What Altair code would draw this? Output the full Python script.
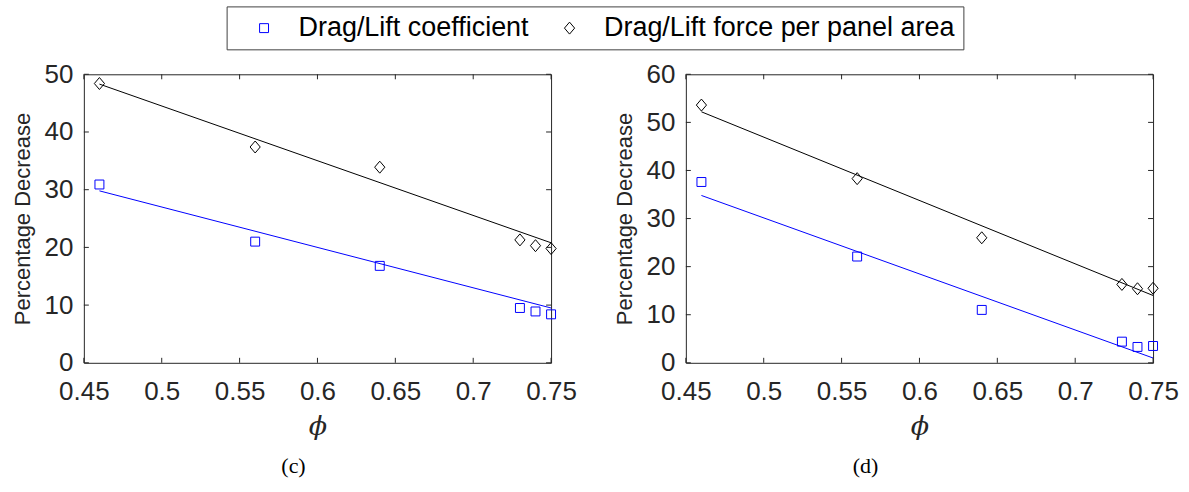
import altair as alt
import pandas as pd

# ---- data ----
phi = [0.46, 0.56, 0.64, 0.73, 0.74, 0.75]
series = ["Drag/Lift coefficient", "Drag/Lift force per panel area"]

# panel (c)
coef_c = [30.9, 21.0, 16.8, 9.5, 8.9, 8.4]
force_c = [48.4, 37.4, 33.9, 21.3, 20.3, 19.8]
# panel (d)
coef_d = [37.6, 22.1, 11.0, 4.4, 3.3, 3.5]
force_d = [53.6, 38.3, 26.0, 16.3, 15.4, 15.5]

# fitted trend lines (end points)
fit_phi = [0.46, 0.75]
fit_coef_c = [29.8, 9.5]
fit_force_c = [48.3, 20.8]
fit_coef_d = [34.8, 1.0]
fit_force_d = [52.2, 14.0]

x_ticks = [0.45, 0.5, 0.55, 0.6, 0.65, 0.7, 0.75]
y_ticks_c = [0, 10, 20, 30, 40, 50]
y_ticks_d = [0, 10, 20, 30, 40, 50, 60]
captions = ["(c)", "(d)"]

# ---- styling ----
W, H = 468, 289
TICK = 5
AX = "#262626"
SANS = "Liberation Sans"
SERIF = "Liberation Serif"
DIAMOND = "M-0.85,0L0,1L0.85,0L0,-1Z"

legend = alt.Legend(
    title=None, orient="none", legendX=143, legendY=-68,
    direction="horizontal", columns=2,
    labelFont=SANS, labelFontSize=27, labelColor="black", labelLimit=0,
    labelOffset=21, columnPadding=11, padding=8, symbolOffset=16,
    strokeColor="#404040", fillColor="white", symbolStrokeWidth=1,
)

x_axis = alt.Axis(
    values=x_ticks, format="~g", title="ϕ",
    titleFont="DejaVu Serif", titleFontStyle="italic", titleFontWeight="normal",
    titleFontSize=27, titleColor=AX, titleBaseline="middle", titleY=64,
    labelFont=SANS, labelFontSize=26, labelColor=AX, labelPadding=16,
    labelFlush=False, labelOverlap=False,
    ticks=False, domain=False, grid=False,
)


def y_axis(ticks):
    return alt.Axis(
        values=ticks, format="d", title="Percentage Decrease",
        titleFont=SANS, titleFontWeight="normal", titleFontSize=22,
        titleColor=AX, titlePadding=10,
        labelFont=SANS, labelFontSize=26, labelColor=AX, labelPadding=11,
        labelFlush=False, labelOverlap=False,
        ticks=False, domain=False, grid=False,
    )


def panel(coef, force, fit_coef, fit_force, y_max, y_ticks, caption, caption_dx, frame):
    xs = alt.Scale(domain=[0.45, 0.75], nice=False, zero=False)
    ys = alt.Scale(domain=[0, y_max], nice=False)
    ya = y_axis(y_ticks)

    def X(f="phi"):
        return alt.X(f"{f}:Q", scale=xs, axis=x_axis)

    def Y(f="value"):
        return alt.Y(f"{f}:Q", scale=ys, axis=ya)

    n = len(phi)
    pts = pd.DataFrame({
        "phi": phi + phi,
        "value": coef + force,
        "series": [series[0]] * n + [series[1]] * n,
    })
    points = alt.Chart(pts).mark_point(filled=False, strokeWidth=1, opacity=1).encode(
        x=X(), y=Y(),
        color=alt.Color("series:N", scale=alt.Scale(domain=series, range=["#0000ff", "#000000"]), legend=legend),
        shape=alt.Shape("series:N", scale=alt.Scale(domain=series, range=["square", DIAMOND]), legend=legend),
        size=alt.Size("series:N", scale=alt.Scale(domain=series, range=[80, 144]), legend=legend),
    )

    fit1 = alt.Chart(pd.DataFrame({"phi": fit_phi, "value": fit_coef})).mark_line(
        color="#0000ff", strokeWidth=1).encode(x=X(), y=Y())
    fit2 = alt.Chart(pd.DataFrame({"phi": fit_phi, "value": fit_force})).mark_line(
        color="#000000", strokeWidth=1).encode(x=X(), y=Y())

    xt = alt.Chart(pd.DataFrame({"phi": x_ticks}))
    yt = alt.Chart(pd.DataFrame({"value": y_ticks}))
    rule = dict(color=AX, strokeWidth=1)
    ticks = [
        xt.mark_rule(**rule).encode(x=X(), y=alt.value(H), y2=alt.value(H - TICK)),
        xt.mark_rule(**rule).encode(x=X(), y=alt.value(0), y2=alt.value(TICK)),
        yt.mark_rule(**rule).encode(y=Y(), x=alt.value(0), x2=alt.value(TICK)),
        yt.mark_rule(**rule).encode(y=Y(), x=alt.value(W), x2=alt.value(W - TICK)),
    ]

    # sub-figure caption below the axis title
    label = alt.Chart(pd.DataFrame({"caption": [caption]})).mark_text(
        font=SERIF, fontSize=22, color="black", baseline="middle", align="center"
    ).encode(text="caption:N", x=alt.value(W / 2 + caption_dx), y=alt.value(H + 103))

    layers = [fit1, fit2, points] + ticks + [label]
    if frame:
        # transparent backdrop spanning the whole canvas
        layers.insert(0, alt.Chart(pd.DataFrame({"a": [0]})).mark_rect(opacity=0).encode(
            x=alt.value(-83), x2=alt.value(1189 - 83),
            y=alt.value(-73), y2=alt.value(492 - 73)))

    return alt.layer(*layers).properties(width=W, height=H)


left = panel(coef_c, force_c, fit_coef_c, fit_force_c, 50, y_ticks_c, captions[0], -24, True)
right = panel(coef_d, force_d, fit_coef_d, fit_force_d, 60, y_ticks_d, captions[1], -54, False)

chart = alt.hconcat(left, right, spacing=135, bounds="flush").resolve_scale(
    color="shared", shape="shared", size="shared"
).properties(padding=0, background="white").configure_view(stroke=AX, strokeWidth=1)

chart.save("out.html", embed_options={"renderer": "svg", "actions": False})
